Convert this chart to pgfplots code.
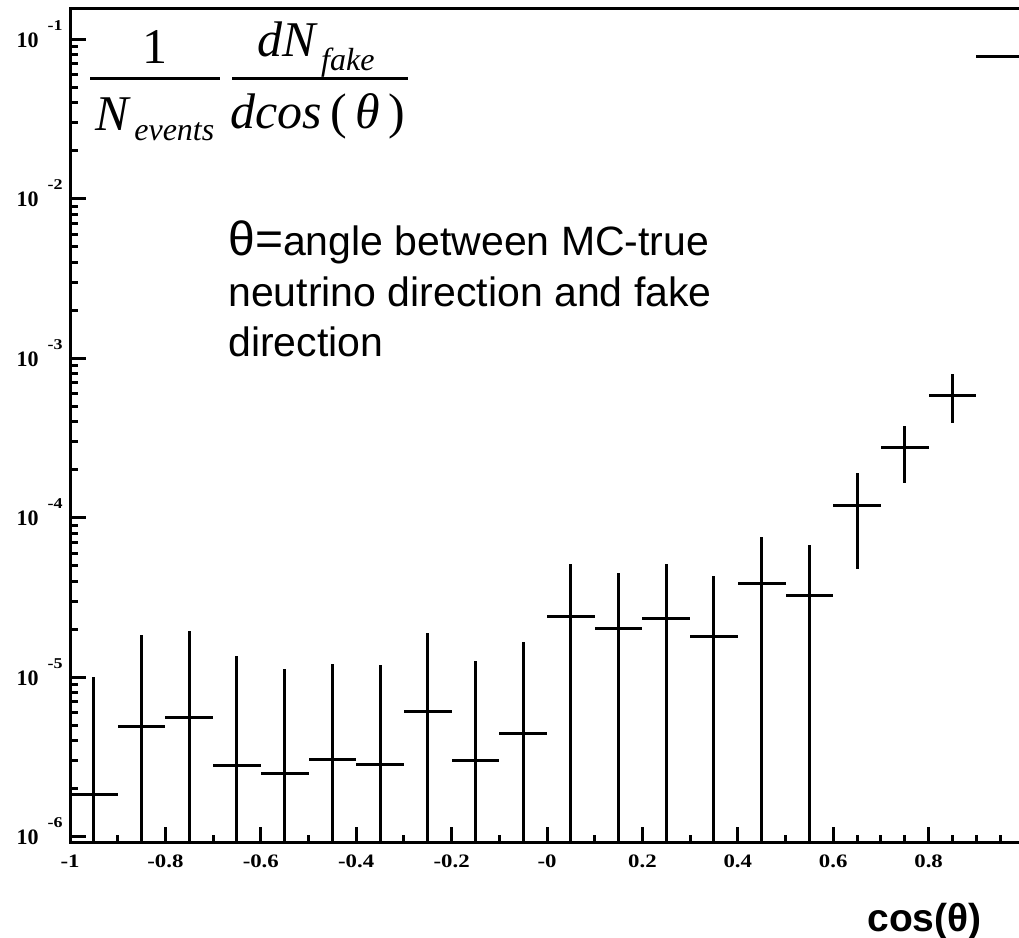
\documentclass[border=0pt]{standalone}
\usepackage{fontspec}
\setmainfont{Liberation Serif}
\newfontfamily\arial{Liberation Sans}
\newfontfamily\wideserif[FakeStretch=1.2]{Liberation Serif}
\usepackage{pgfplots}
\pgfplotsset{compat=1.18}

% bins of cos(theta), x error = half bin width, explicit +/- errors
\pgfplotstableread{
x      y        ex    ep        em
-0.95  1.85e-6  0.05  8.25e-6   1.35e-6
-0.85  4.90e-6  0.05  1.34e-5   4.40e-6
-0.75  5.61e-6  0.05  1.389e-5  5.11e-6
-0.65  2.79e-6  0.05  1.081e-5  2.29e-6
-0.55  2.50e-6  0.05  8.80e-6   2.00e-6
-0.45  3.06e-6  0.05  9.04e-6   2.56e-6
-0.35  2.86e-6  0.05  9.14e-6   2.36e-6
-0.25  6.12e-6  0.05  1.288e-5  5.62e-6
-0.15  3.02e-6  0.05  9.68e-6   2.52e-6
-0.05  4.43e-6  0.05  1.217e-5  3.93e-6
0.05   2.39e-5  0.05  2.74e-5   2.34e-5
0.15   2.01e-5  0.05  2.50e-5   1.96e-5
0.25   2.32e-5  0.05  2.81e-5   2.27e-5
0.35   1.79e-5  0.05  2.53e-5   1.74e-5
0.45   3.85e-5  0.05  3.70e-5   3.80e-5
0.55   3.25e-5  0.05  3.50e-5   3.20e-5
0.65   1.20e-4  0.05  7.20e-5   7.23e-5
0.75   2.75e-4  0.05  1.03e-4   1.09e-4
0.85   5.83e-4  0.05  2.14e-4   1.89e-4
0.95   7.78e-2  0.05  0         0
}\fakedata

\newcommand{\ylab}[1]{\fontsize{11bp}{11bp}\selectfont\bfseries 10\hspace{4.5bp}\raisebox{8.5bp}{\wideserif\bfseries\fontsize{7.5bp}{7.5bp}\selectfont #1}}

\begin{document}
\begin{tikzpicture}
\begin{axis}[
    at={(35bp,-421.35bp)}, anchor=south west,
    scale only axis, width=477bp, height=417.35bp,
    ymode=log,
    xmin=-1, xmax=1, ymin=9.18e-7, ymax=0.157,
    axis line style={line width=1.5bp},
    tick align=inside, xtick pos=bottom, ytick pos=left,
    major tick length=8bp, minor tick length=4bp,
    every tick/.style={line width=1.5bp, black},
    xtick={-1,-0.8,-0.6,-0.4,-0.2,0,0.2,0.4,0.6,0.8,1},
    xticklabels={-1,-0.8,-0.6,-0.4,-0.2,-0,0.2,0.4,0.6,0.8,1},
    minor x tick num=3,
    xticklabel style={font=\wideserif\bfseries\fontsize{9.5bp}{9.5bp}\selectfont, anchor=north, inner sep=0pt, yshift=-6bp},
    ytick={1e-6,1e-5,1e-4,1e-3,1e-2,1e-1},
    yticklabels={\ylab{-6},\ylab{-5},\ylab{-4},\ylab{-3},\ylab{-2},\ylab{-1}},
    yticklabel style={anchor=base east, inner sep=0pt, xshift=-3.5bp, yshift=-4bp},
]
  \addplot[draw=none, mark=none,
    error bars/.cd, x dir=both, x explicit, y dir=both, y explicit,
    error mark=none, error bar style={draw=black, line width=1.5bp}]
    table[x=x, y=y, x error=ex, y error plus=ep, y error minus=em] {\fakedata};
\end{axis}

% y-axis title as a two-part fraction
\begin{scope}[every node/.style={inner sep=0pt, anchor=base}]
  \node at (77.5bp,-31.5bp) {\fontsize{25bp}{25bp}\selectfont 1};
  \draw[line width=1.5bp] (45bp,-39bp) -- (110bp,-39bp);
  \node at (77.5bp,-65bp) {\fontsize{25bp}{25bp}\selectfont\itshape N\raisebox{-5bp}{\fontsize{16bp}{16bp}\selectfont\,events}};
  \node at (158bp,-28bp) {\fontsize{25bp}{25bp}\selectfont\itshape dN\raisebox{-7bp}{\fontsize{16bp}{16bp}\selectfont\,fake}};
  \draw[line width=1.5bp] (116bp,-39bp) -- (204bp,-39bp);
  \node at (159bp,-64bp) {\fontsize{25bp}{25bp}\selectfont\itshape dcos\,\upshape(\,\itshape θ\,\upshape)};
\end{scope}

\node[anchor=base west, inner sep=0pt, font=\arial\fontsize{20.5bp}{25bp}\selectfont] at (114bp,-127.5bp) {{\fontsize{24bp}{25bp}\selectfont θ=}angle between MC-true};
\node[anchor=base west, inner sep=0pt, font=\arial\fontsize{20.5bp}{25bp}\selectfont] at (114bp,-153.3bp) {neutrino direction and fake};
\node[anchor=base west, inner sep=0pt, font=\arial\fontsize{20.5bp}{25bp}\selectfont] at (114bp,-178.3bp) {direction};

\node[anchor=base east, inner sep=0pt, font=\arial\bfseries\fontsize{19.5bp}{19.5bp}\selectfont] at (491bp,-465.5bp) {cos(θ)};

\pgfresetboundingbox
\path[use as bounding box] (0,0) rectangle (509.5bp,-469bp);
\end{tikzpicture}
\end{document}
